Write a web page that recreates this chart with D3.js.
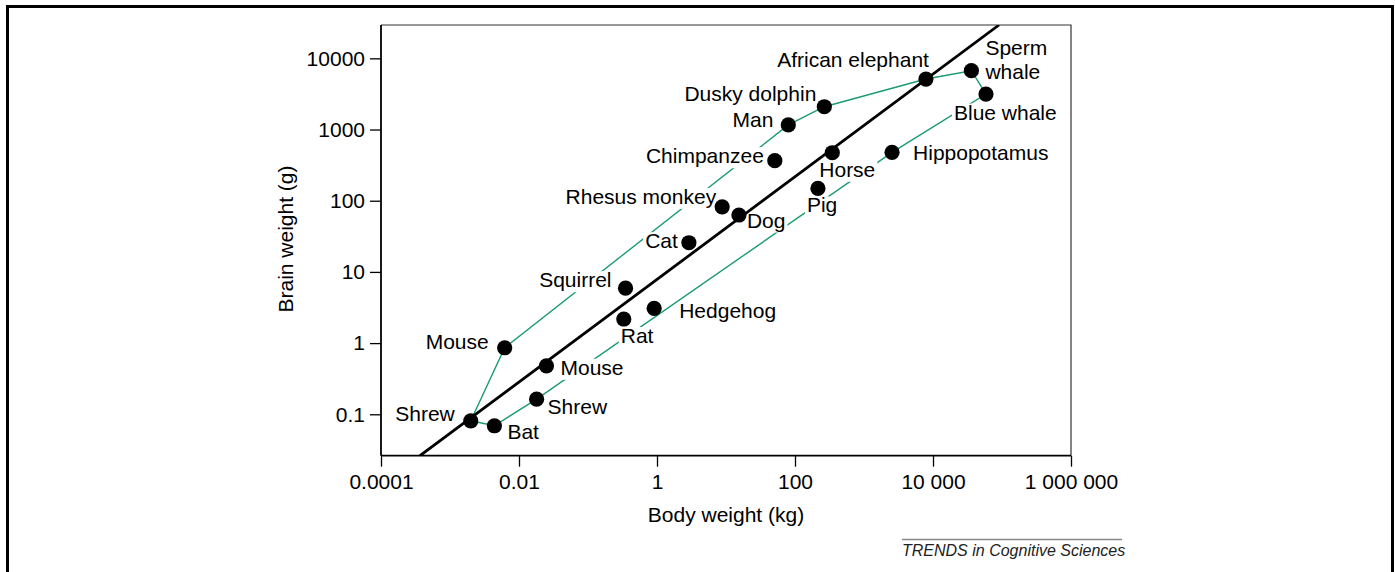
<!DOCTYPE html>
<html><head><meta charset="utf-8">
<script src="https://cdn.jsdelivr.net/npm/d3@7"></script>
<style>
html,body{margin:0;padding:0;background:#fff;}
svg{display:block;font-family:Arial,"Liberation Sans",Helvetica,sans-serif;}
</style></head><body>
<svg id="chart" width="1395" height="572"></svg>
<script>
// ---- data ----
const animals = ["Shrew","Bat","Shrew","Mouse","Mouse","Squirrel","Rat","Hedgehog","Cat","Rhesus monkey","Dog","Chimpanzee","Man","Dusky dolphin","Pig","Horse","Hippopotamus","African elephant","Sperm whale","Blue whale"];
const bodyKg  = [0.0020,0.0044,0.018,0.025,0.0062,0.35,0.33,0.91,2.9,8.8,15.4,51,80,266,215,347,2550,7900,36000,58600];
const brainG  = [0.081,0.069,0.163,0.48,0.86,5.9,2.18,3.08,25.7,82,63,365,1160,2090,149,472,478,5120,6700,3150];
// outline (minimum convex polygon) through these animals, by index
const hullOrder = [0,4,12,13,17,18,19,16,2,1,0];
// fitted allometric line endpoints
const fitBody  = [0.000367, 90600];
const fitBrain = [0.0262, 29400];
// axes
const xTicks = [1e-4,1e-2,1,100,1e4,1e6];
const xTickLabels = ["0.0001","0.01","1","100","10 000","1 000 000"];
const yTicks = [0.1,1,10,100,1000,10000];
const yTickLabels = ["0.1","1","10","100","1000","10000"];
const xTitle = "Body weight (kg)";
const yTitle = "Brain weight (g)";
const credit = "TRENDS in Cognitive Sciences";

// ---- layout (label placement relative to each point) ----
const placement = [
 {a:"end", dx:-16, dy:0},
 {a:"start", dx:13, dy:13},
 {a:"start", dx:11, dy:15},
 {a:"start", dx:14, dy:9},
 {a:"end", dx:-16, dy:1.5},
 {a:"end", dx:-14, dy:-1},
 {a:"start", dx:-3, dy:24},
 {a:"start", dx:25, dy:10},
 {a:"end", dx:-11, dy:5.5},
 {a:"end", dx:-6, dy:-3},
 {a:"start", dx:8, dy:12.5},
 {a:"end", dx:-11, dy:2.5},
 {a:"end", dx:-15, dy:2},
 {a:"end", dx:-8, dy:-6},
 {a:"start", dx:-11, dy:24},
 {a:"start", dx:-13, dy:24},
 {a:"start", dx:21, dy:8},
 {a:"end", dx:3, dy:-12.5},
 {a:"start", dx:14, dy:-16},
 {a:"start", dx:-32, dy:25.5}
];

const svg = d3.select("#chart");
const FS = 21;
const GREEN = "#1a9b72";
const L = 381, R = 1071, T = 25, B = 455.7;

// outer frame
svg.append("rect").attr("x",7.5).attr("y",6.5).attr("width",1385).attr("height",620)
  .attr("fill","none").attr("stroke","#000").attr("stroke-width",3);

const x = d3.scaleLog().domain([1e-4,1e6]).range([L,R]);
const y = d3.scaleLog().domain([0.0262,29400]).range([B,T]);

// top/right frame
svg.append("path").attr("d",`M${L},${T}H${R}V${B}`).attr("fill","none")
  .attr("stroke","#333").attr("stroke-width",1.2);

// axes
const xa = svg.append("g").attr("transform",`translate(0,${B})`)
  .call(d3.axisBottom(x).tickValues(xTicks).tickFormat((d,i)=>xTickLabels[i]).tickSize(11).tickSizeOuter(0).tickPadding(7));
const ya = svg.append("g").attr("transform",`translate(${L},0)`)
  .call(d3.axisLeft(y).tickValues(yTicks).tickFormat((d,i)=>yTickLabels[i]).tickSize(11).tickSizeOuter(0).tickPadding(5));
[xa,ya].forEach(g=>{
  g.select(".domain").attr("stroke","#000").attr("stroke-width",1.8);
  g.selectAll(".tick line").attr("stroke","#000").attr("stroke-width",1.3);
  g.selectAll(".tick text").attr("font-size",FS).attr("font-family","Arial, 'Liberation Sans', sans-serif").attr("fill","#000");
});
xa.select(".domain").attr("d",`M${L},0H${R}`);
ya.select(".domain").attr("d",`M0,${T}V${B}`);

// titles
svg.append("text").attr("x",(L+R)/2).attr("y",522).attr("text-anchor","middle")
  .attr("font-size",FS).text(xTitle);
svg.append("text").attr("transform",`translate(293,239) rotate(-90)`).attr("text-anchor","middle")
  .attr("font-size",FS).text(yTitle);

// credit
svg.append("line").attr("x1",902).attr("x2",1122).attr("y1",539.5).attr("y2",539.5)
  .attr("stroke","#888").attr("stroke-width",1.5);
svg.append("text").attr("x",902).attr("y",556).attr("font-size",16).attr("font-style","italic")
  .attr("fill","#222").text(credit);

// clip for plot area
svg.append("clipPath").attr("id","plotclip").append("rect")
  .attr("x",L).attr("y",T).attr("width",R-L).attr("height",B-T);

const pts = animals.map((n,i)=>({name:n, bx:bodyKg[i], by:brainG[i], px:x(bodyKg[i]), py:y(brainG[i]), p:placement[i]}));

// green outline
const line = d3.line().x(i=>x(bodyKg[i])).y(i=>y(brainG[i]));
svg.append("path").attr("d",line(hullOrder)).attr("fill","none")
  .attr("stroke",GREEN).attr("stroke-width",1.4);

// labels with white masks
const lblG = svg.append("g");
pts.forEach(d=>{
  const lines = d.name==="Sperm whale" ? ["Sperm","whale"] : [d.name];
  lines.forEach((t,k)=>{
    const bx = d.px + d.p.dx, by = d.py + d.p.dy + k*24;
    const g = lblG.append("g");
    const r = g.append("rect").attr("fill","#fff");
    const tx = g.append("text").attr("x",bx).attr("y",by).attr("text-anchor",d.p.a)
      .attr("font-size",FS).attr("fill","#000").text(t);
    const w = tx.node().getComputedTextLength();
    const x0 = d.p.a==="end" ? bx-w : bx;
    r.attr("x",x0-2).attr("y",by-16).attr("width",w+4).attr("height",21);
  });
});

// fitted line
svg.append("path").attr("clip-path","url(#plotclip)")
  .attr("d",d3.line()([[x(fitBody[0]),y(fitBrain[0])],[x(fitBody[1]),y(fitBrain[1])]]))
  .attr("stroke","#000").attr("stroke-width",2.8).attr("fill","none");

// points
svg.append("g").selectAll("circle").data(pts).join("circle")
  .attr("cx",d=>d.px).attr("cy",d=>d.py).attr("r",7.6).attr("fill","#000");
</script>
</body></html>
